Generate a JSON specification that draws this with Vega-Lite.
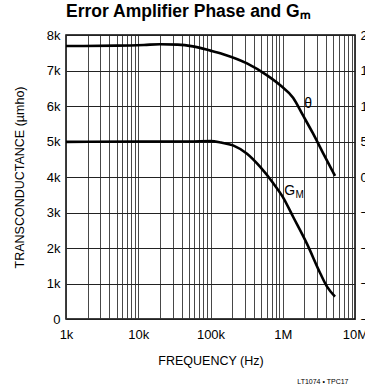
{
  "$schema": "https://vega.github.io/schema/vega-lite/v6.json",
  "autosize": {"type": "none"},
  "width": 289,
  "height": 284,
  "padding": {"left": 66, "top": 35, "right": 10, "bottom": 70},
  "background": "white",
  "title": {"text": "Error Amplifier Phase and Gₘ", "font": "Liberation Sans", "fontSize": 17.5, "fontWeight": "bold", "color": "black", "anchor": "start", "frame": "group", "offset": 9},
  "config": {
    "font": "Liberation Sans",
    "view": {"stroke": "black", "strokeWidth": 1.5},
    "axis": {"labelColor": "black", "titleColor": "black", "labelFont": "Liberation Sans", "titleFont": "Liberation Sans", "titleFontWeight": "normal", "labelFlush": false, "labelOverlap": false, "ticks": false, "domain": false}
  },
  "datasets": {
    "gm": [
      {"f": 1000, "v": 4990}, {"f": 10000, "v": 5000}, {"f": 50000, "v": 5000}, {"f": 100000, "v": 5010},
      {"f": 140000, "v": 4970}, {"f": 205000, "v": 4890}, {"f": 317000, "v": 4660}, {"f": 484000, "v": 4290},
      {"f": 735000, "v": 3830}, {"f": 1000000, "v": 3440}, {"f": 1390000, "v": 2880}, {"f": 2150000, "v": 2130},
      {"f": 3300000, "v": 1290}, {"f": 4100000, "v": 910}, {"f": 5290000, "v": 630}
    ],
    "phase": [
      {"f": 1000, "p": 184.5}, {"f": 5000, "p": 185}, {"f": 12000, "p": 186}, {"f": 20000, "p": 187},
      {"f": 35000, "p": 186.5}, {"f": 57000, "p": 184}, {"f": 100000, "p": 178}, {"f": 150000, "p": 173},
      {"f": 320000, "p": 160}, {"f": 600000, "p": 143.5}, {"f": 916000, "p": 129.5}, {"f": 1390000, "p": 111.5},
      {"f": 1900000, "p": 87}, {"f": 2600000, "p": 62}, {"f": 3600000, "p": 34}, {"f": 5290000, "p": 1.5}
    ],
    "theta": [{"f": 2240000, "v": 6050, "t": "θ"}],
    "g": [{"f": 1250000, "v": 3610, "t": "G"}],
    "m": [{"f": 1250000, "v": 3610, "t": "M"}]
  },
  "layer": [
    {
      "data": {"name": "gm"},
      "mark": {"type": "line", "color": "black", "strokeWidth": 2.6, "interpolate": "monotone", "clip": true},
      "encoding": {
        "x": {"field": "f", "type": "quantitative",
          "scale": {"type": "log", "domain": [1000, 10000000], "nice": false},
          "axis": {"orient": "bottom", "title": "FREQUENCY (Hz)", "titleFontSize": 12.5, "titlePadding": 13, "labelFontSize": 13, "labelPadding": 9,
            "values": [1000, 2000, 3000, 4000, 5000, 6000, 7000, 8000, 9000, 10000, 20000, 30000, 40000, 50000, 60000, 70000, 80000, 90000, 100000, 200000, 300000, 400000, 500000, 600000, 700000, 800000, 900000, 1000000, 2000000, 3000000, 4000000, 5000000, 6000000, 7000000, 8000000, 9000000, 10000000],
            "labelExpr": "datum.value == 1000 ? '1k' : datum.value == 10000 ? '10k' : datum.value == 100000 ? '100k' : datum.value == 1000000 ? '1M' : datum.value == 10000000 ? '10M' : ''",
            "grid": true, "gridColor": "#333", "gridWidth": 0.9}},
        "y": {"field": "v", "type": "quantitative",
          "scale": {"domain": [0, 8000], "nice": false},
          "axis": {"orient": "left", "title": "TRANSCONDUCTANCE (µmho)", "titleFontSize": 12.5, "titlePadding": 20, "labelFontSize": 13, "labelPadding": 6,
            "values": [0, 1000, 2000, 3000, 4000, 5000, 6000, 7000, 8000],
            "labelExpr": "datum.value == 0 ? '0' : (datum.value / 1000) + 'k'",
            "grid": true, "gridColor": "#222", "gridWidth": 1}}
      }
    },
    {
      "data": {"name": "phase"},
      "mark": {"type": "line", "color": "black", "strokeWidth": 2.6, "interpolate": "monotone", "clip": true},
      "encoding": {
        "x": {"field": "f", "type": "quantitative",
          "scale": {"type": "log", "domain": [1000, 10000000], "nice": false},
          "axis": {"orient": "bottom", "title": "LT1074 • TPC17", "titleFontSize": 7, "labels": false, "grid": false, "titleAlign": "right", "titleAnchor": "end", "titleX": 282, "titleY": 64, "titleBaseline": "alphabetic"}},
        "y": {"field": "p", "type": "quantitative",
          "scale": {"domain": [-200, 200], "nice": false},
          "axis": {"orient": "right", "title": "PHASE (DEG)", "labelFontSize": 13, "labelPadding": 5, "grid": false,
            "values": [-200, -150, -100, -50, 0, 50, 100, 150, 200]}}
      }
    },
    {
      "data": {"name": "theta"},
      "mark": {"type": "text", "color": "black", "font": "Liberation Sans", "fontSize": 14},
      "encoding": {
        "x": {"field": "f", "type": "quantitative", "scale": {"type": "log", "domain": [1000, 10000000], "nice": false}, "axis": null},
        "y": {"field": "v", "type": "quantitative", "scale": {"domain": [0, 8000], "nice": false}, "axis": null},
        "text": {"field": "t"}
      }
    },
    {
      "data": {"name": "g"},
      "mark": {"type": "text", "color": "black", "font": "Liberation Sans", "fontSize": 14},
      "encoding": {
        "x": {"field": "f", "type": "quantitative", "scale": {"type": "log", "domain": [1000, 10000000], "nice": false}, "axis": null},
        "y": {"field": "v", "type": "quantitative", "scale": {"domain": [0, 8000], "nice": false}, "axis": null},
        "text": {"field": "t"}
      }
    },
    {
      "data": {"name": "m"},
      "mark": {"type": "text", "color": "black", "font": "Liberation Sans", "fontSize": 10, "dx": 10, "dy": 4},
      "encoding": {
        "x": {"field": "f", "type": "quantitative", "scale": {"type": "log", "domain": [1000, 10000000], "nice": false}, "axis": null},
        "y": {"field": "v", "type": "quantitative", "scale": {"domain": [0, 8000], "nice": false}, "axis": null},
        "text": {"field": "t"}
      }
    }
  ],
  "resolve": {"scale": {"x": "independent", "y": "independent"}, "axis": {"x": "independent", "y": "independent"}}
}
